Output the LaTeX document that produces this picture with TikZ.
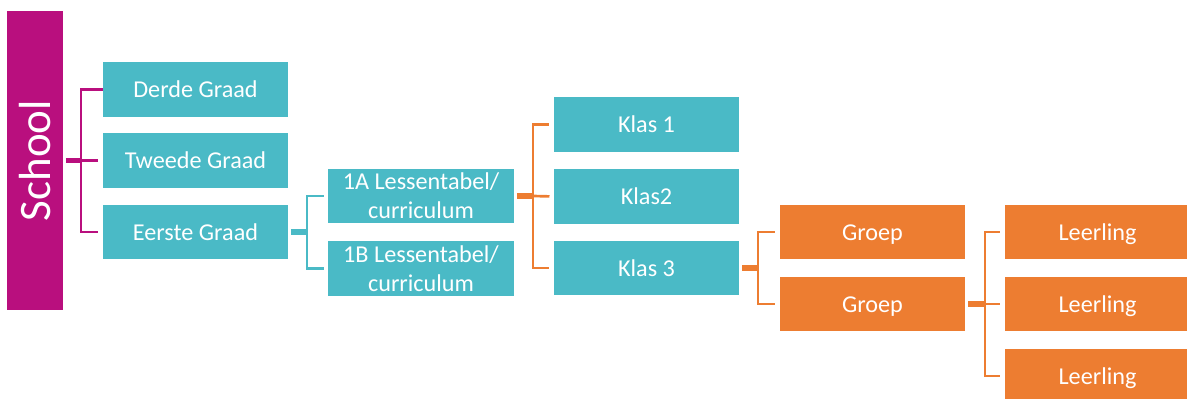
\documentclass[tikz,border=0pt]{standalone}
\usepackage{fontspec}
\setmainfont{Carlito}
\usetikzlibrary{calc, positioning}
\definecolor{schoolmag}{HTML}{B90F7E}
\definecolor{boxteal}{HTML}{4ABAC6}
\definecolor{boxorange}{HTML}{ED7D31}
\tikzset{
  vak/.style={fill=#1, text=white, inner sep=0pt, minimum width=4.625cm, minimum height=1.35cm, align=center, font=\fontsize{17.2}{20.5}\selectfont},
  eenregel/.style={text height=11.6pt, text depth=0pt},
  stub/.style={draw=#1, line width=3.6pt},
  tak/.style={draw=#1, line width=1.9pt}
}
\begin{document}
\begin{tikzpicture}[x=0.025cm, y=-0.025cm]
\useasboundingbox (0,0) rectangle (1187,399);
% school
\node[fill=schoolmag, text=white, inner sep=0pt, rotate=90, minimum width=7.475cm, minimum height=1.375cm, font=\fontsize{32}{36}\selectfont] (school) at (35,160.5) {School};
% graden
\node[vak=boxteal, eenregel] (derde) at (195.5,89.5) {Derde Graad};
\node[vak=boxteal, eenregel] (tweede) at (195.5,160.5) {Tweede Graad};
\node[vak=boxteal, eenregel] (eerste) at (195.5,232) {Eerste Graad};
% lessentabellen
\node[vak=boxteal] (tabA) at (421,196) {1A Lessentabel/\\curriculum};
\node[vak=boxteal] (tabB) at (421,268.5) {1B Lessentabel/\\curriculum};
% klassen
\node[vak=boxteal, eenregel] (klas1) at (646.5,124.5) {Klas 1};
\node[vak=boxteal, eenregel] (klas2) at (646.5,196.5) {Klas2};
\node[vak=boxteal, eenregel] (klas3) at (646.5,268) {Klas 3};
% groepen
\node[vak=boxorange, eenregel] (groep1) at (872.5,232) {Groep};
\node[vak=boxorange, eenregel] (groep2) at (872.5,304) {Groep};
% leerlingen
\foreach \i/\y in {1/232, 2/304, 3/376} {
  \node[vak=boxorange, eenregel] (leer\i) at (1097.5,\y) {Leerling};
}
% verbindingen
\coordinate (jS) at (81,160.5);
\draw[stub=schoolmag] (school.south) ++(3,0) -- (jS);
\draw[tak=schoolmag, shorten >=3] (derde.west) -| (jS) |- (eerste.west);
\draw[tak=schoolmag, shorten >=3] (jS) -- (tweede.west);
\coordinate (jE) at (307,232);
\draw[stub=boxteal] ($(eerste.east)+(3,0)$) -- (jE);
\draw[tak=boxteal, shorten >=3] (jE) |- (tabA.west);
\draw[tak=boxteal, shorten >=3] (jE) |- (tabB.west);
\coordinate (jA) at (533,196);
\draw[stub=boxorange] ($(tabA.east)+(3,0)$) -- (jA);
\draw[tak=boxorange, shorten >=3] (jA) |- (klas1.west);
\draw[tak=boxorange, shorten >=3] (jA) -- (klas2.west);
\draw[tak=boxorange, shorten >=3] (jA) |- (klas3.west);
\coordinate (jK) at (758,268);
\draw[stub=boxorange] ($(klas3.east)+(3,0)$) -- (jK);
\draw[tak=boxorange, shorten >=3] (jK) |- (groep1.west);
\draw[tak=boxorange, shorten >=3] (jK) |- (groep2.west);
\coordinate (jG) at (985,304);
\draw[stub=boxorange] ($(groep2.east)+(3,0)$) -- (jG);
\draw[tak=boxorange, shorten >=3] (jG) |- (leer1.west);
\draw[tak=boxorange, shorten >=3] (jG) -- (leer2.west);
\draw[tak=boxorange, shorten >=3] (jG) |- (leer3.west);
\end{tikzpicture}
\end{document}
